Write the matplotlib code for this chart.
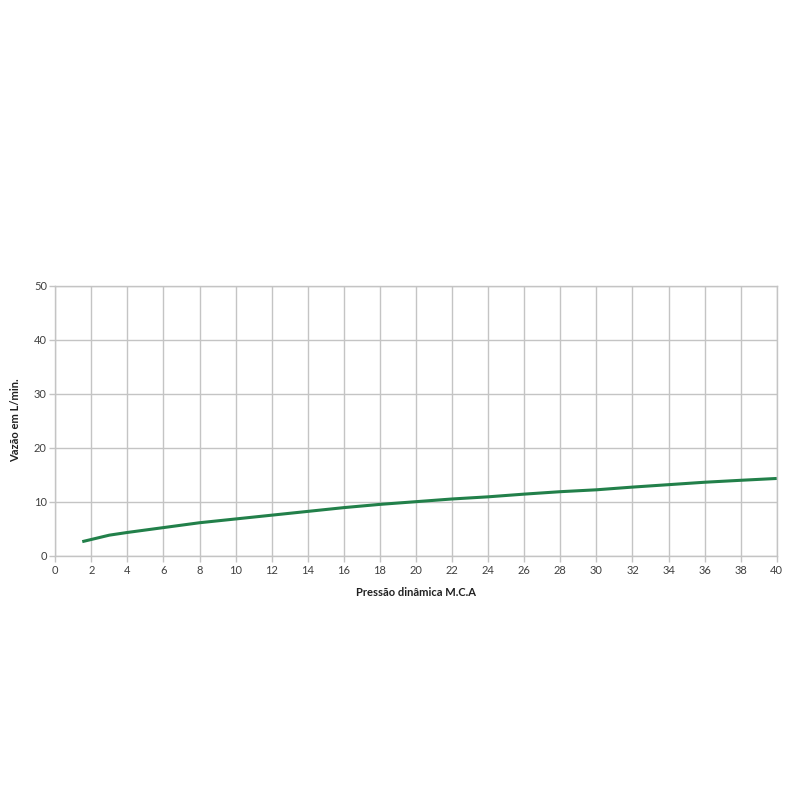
import matplotlib
matplotlib.use("Agg")
import matplotlib.pyplot as plt

pressure = [1.5, 3, 4, 6, 8, 10, 12, 14, 16, 18, 20, 22, 24, 26, 28, 30, 32, 34, 36, 38, 40]
flow = [2.6, 3.8, 4.3, 5.2, 6.1, 6.8, 7.5, 8.2, 8.9, 9.5, 10.0, 10.5, 10.9, 11.4, 11.85, 12.2, 12.7, 13.15, 13.6, 13.96, 14.3]
x_ticks = list(range(0, 41, 2))
y_ticks = [0, 10, 20, 30, 40, 50]

plt.rcParams['font.family'] = ['Lato', 'DejaVu Sans']

fig = plt.figure(figsize=(8, 8), dpi=100)
ax = fig.add_axes([0.069, 0.3054, 0.902, 0.3375])
ax.plot(pressure, flow, color='#22804a', linewidth=2.2, solid_capstyle='butt')
ax.set_xlim(0, 40)
ax.set_ylim(0, 50)
ax.set_xticks(x_ticks)
ax.set_yticks(y_ticks)
ax.grid(True, color='#c4c4c4', linewidth=1.0)
ax.set_axisbelow(True)
for s in ax.spines.values():
    s.set_color('#c4c4c4')
    s.set_linewidth(1.0)
ax.tick_params(axis='both', colors='#c4c4c4', labelcolor='#404040', labelsize=8, length=4, width=1)
ax.tick_params(axis='y', pad=2)
ax.tick_params(axis='x', pad=2.5)
ax.set_xlabel('Pressão dinâmica M.C.A', fontsize=8, fontweight='bold', color='#202020', labelpad=8)
ax.set_ylabel('Vazão em L/min.', fontsize=8, fontweight='bold', color='#202020', labelpad=9)
fig.savefig('out.png', dpi=100, facecolor='white')
